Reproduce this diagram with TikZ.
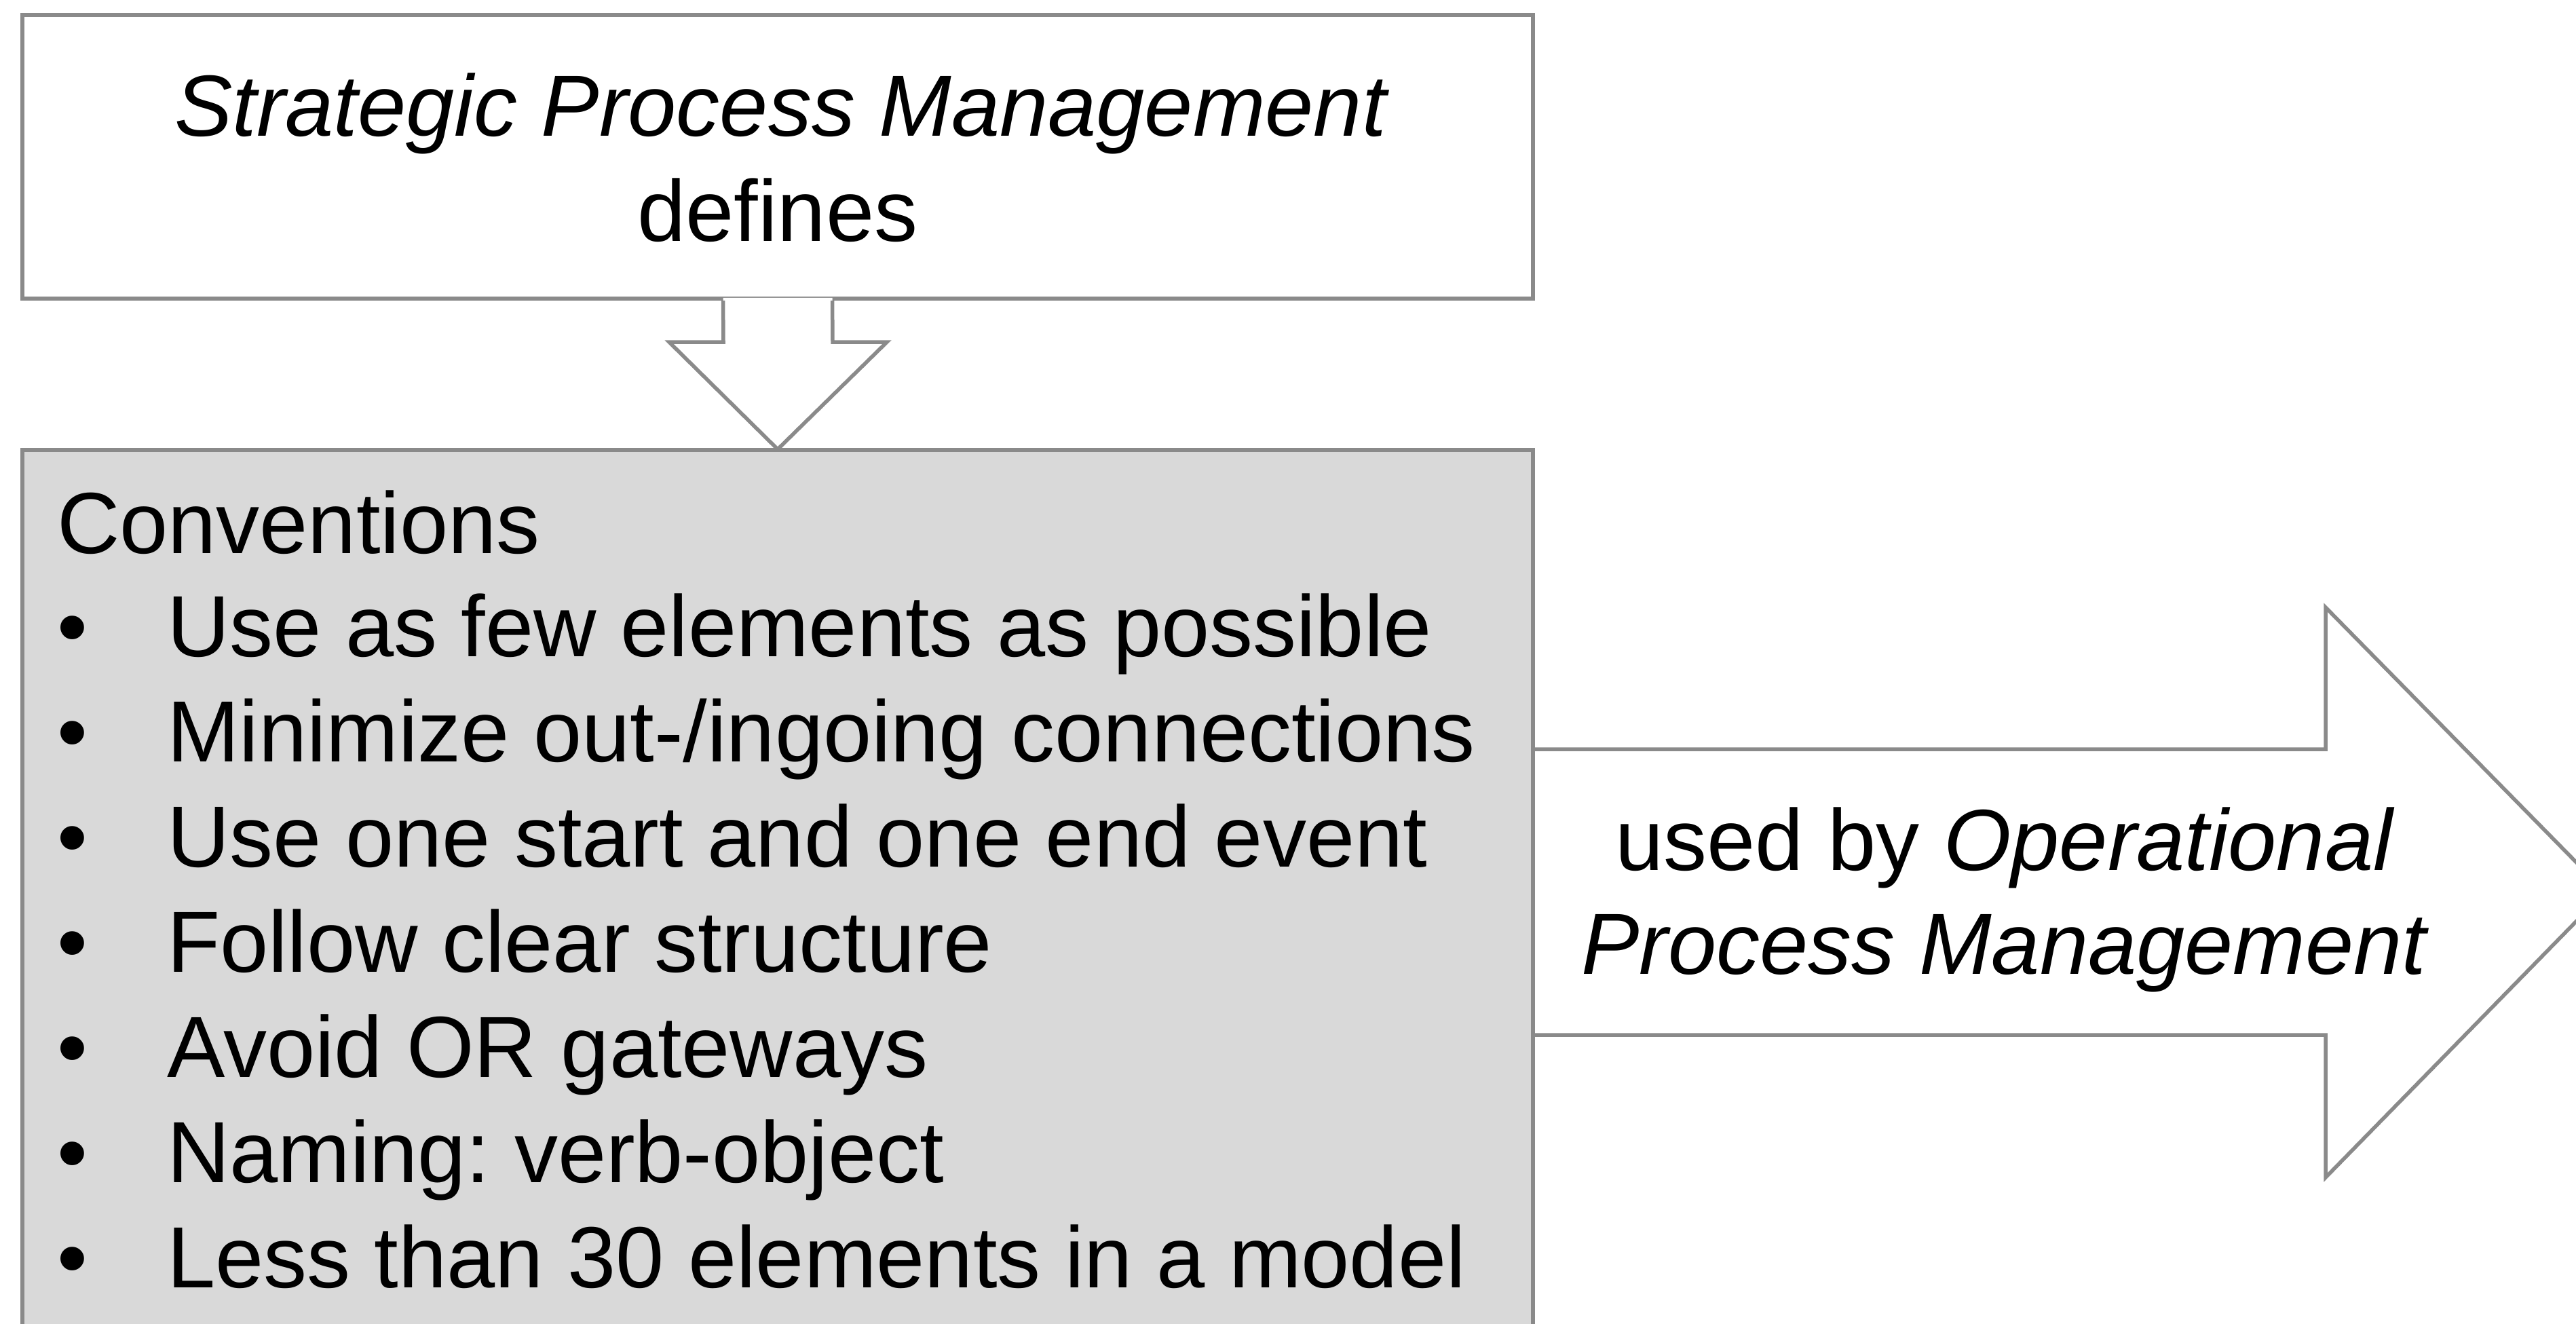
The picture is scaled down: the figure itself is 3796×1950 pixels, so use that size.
\documentclass[tikz,border=0pt]{standalone}
\usepackage{fontspec}
\setmainfont{Liberation Sans}
\usetikzlibrary{calc}
\definecolor{edgegray}{HTML}{8A8A8A}
\definecolor{boxgray}{HTML}{D9D9D9}
\frenchspacing
\begin{document}
\begin{tikzpicture}[x=0.2pt,y=-0.2pt,
  every node/.style={font=\fontsize{25.6pt}{31pt}\selectfont, text=black},
  edge/.style={draw=edgegray, line width=1.1pt, line join=miter},
  topbox/.style={edge, fill=white, minimum width=445.2pt, minimum height=83.6pt, inner sep=0pt},
  convbox/.style={edge, fill=boxgray, minimum width=445.2pt, minimum height=267.4pt, inner sep=0pt},
  txt/.style={inner sep=0pt, anchor=base},
  txtl/.style={inner sep=0pt, anchor=base west}]
\useasboundingbox (0,0) rectangle (3796,1950);
\clip (0,0) rectangle (3796,1950);
\fill[white] (0,0) rectangle (3796,1950);

% top box
\node[topbox] (spm) at (1146,231) {};
\node[txt] (spmA) at (1150,200) {\itshape Strategic Process Management};
\node[txt] (spmB) at (1146,355) {defines};

% conventions box position (drawn later)
\path (1146,1331.5) node[minimum width=445.2pt, minimum height=267.4pt, inner sep=0pt] (convpos) {};

% down block arrow
\coordinate (dA) at ($(spm.south)+(-80.5,0)$);
\coordinate (dB) at ($(spm.south)+(80.5,0)$);
\fill[white] ($(dA)+(0,-4)$) -- (1066,504) -- (986,504) -- (convpos.north) -- (1307,504) -- (1227,504) -- ($(dB)+(0,-4)$) -- cycle;
\draw[edge] (dA) -- (1066,504) -- (986,504) -- (convpos.north) -- (1307,504) -- (1227,504) -- (dB);

% right block arrow
\coordinate (rA) at (convpos.east |- 0,1104);
\coordinate (rB) at (convpos.east |- 0,1525);
\coordinate (rtip) at (3839,1314);
\fill[white] (rA) -- (3427,1104) -- (3427,895) -- (rtip) -- (3427,1735) -- (3427,1525) -- (rB) -- cycle;
\draw[edge] (rA) -- (3427,1104) -- (3427,895) -- (rtip) -- (3427,1735) -- (3427,1525) -- (rB);

% conventions box
\node[convbox] (conv) at (1146,1331.5) {};

\node[txtl] (head) at (83,815) {Conventions};
\foreach \i/\t in {0/Use as few elements as possible,
                   1/Minimize out-\slash ingoing connections,
                   2/Use one start and one end event,
                   3/Follow clear structure,
                   4/Avoid OR gateways,
                   5/Naming: verb-object,
                   6/Less than 30 elements in a model}{
  \node[txt] (b\i) at (107,967+155*\i) {•};
  \node[txtl] (it\i) at (245,967+155*\i) {\t};
}

% arrow label
\node[txt] (useA) at (2953,1282) {used by \itshape Operational};
\node[txt] (useB) at (2953,1435) {\itshape Process Management};
\end{tikzpicture}
\end{document}
